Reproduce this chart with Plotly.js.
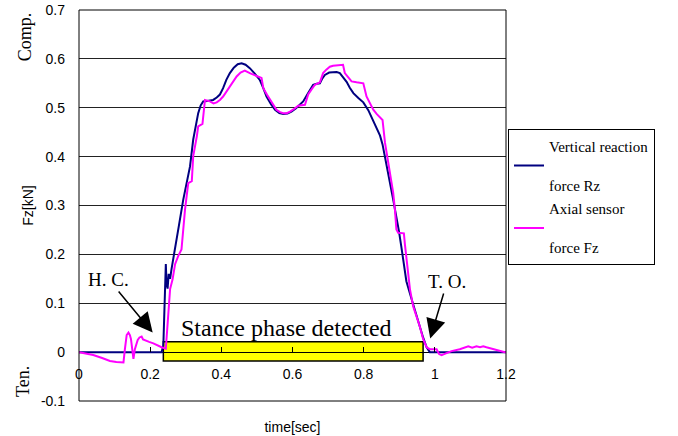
<!DOCTYPE html>
<html>
<head>
<meta charset="utf-8">
<script src="https://cdn.plot.ly/plotly-3.0.1.min.js"></script>
<style>html,body{margin:0;padding:0;background:#fff;}#chart{width:678px;height:436px;}</style>
</head>
<body>
<div id="chart"></div>
<script>
// Vertical reaction force Rz (navy)
var rzTime = [0, 0.232, 0.237, 0.241, 0.244, 0.246, 0.249, 0.252, 0.256, 0.260, 0.265, 0.270, 0.281, 0.293, 0.303, 0.312, 0.321, 0.328, 0.335, 0.342, 0.349, 0.360, 0.377, 0.387, 0.396, 0.405, 0.414, 0.424, 0.435, 0.446, 0.457, 0.468, 0.480, 0.494, 0.508, 0.518, 0.527, 0.540, 0.551, 0.563, 0.574, 0.586, 0.597, 0.610, 0.621, 0.630, 0.644, 0.658, 0.668, 0.677, 0.684, 0.691, 0.703, 0.714, 0.724, 0.733, 0.742, 0.752, 0.761, 0.771, 0.785, 0.799, 0.813, 0.827, 0.837, 0.846, 0.853, 0.860, 0.867, 0.874, 0.883, 0.892, 0.899, 0.906, 0.913, 0.920, 0.930, 0.939, 0.949, 0.958, 0.967, 0.977, 0.986, 1.0, 1.2];
var rzForce = [0, 0, 0.013, 0.09, 0.18, 0.14, 0.13, 0.16, 0.15, 0.17, 0.19, 0.21, 0.26, 0.312, 0.35, 0.38, 0.435, 0.465, 0.489, 0.505, 0.513, 0.514, 0.516, 0.521, 0.527, 0.540, 0.557, 0.571, 0.582, 0.589, 0.591, 0.588, 0.581, 0.570, 0.557, 0.540, 0.523, 0.507, 0.496, 0.489, 0.487, 0.488, 0.492, 0.499, 0.507, 0.513, 0.530, 0.547, 0.549, 0.550, 0.560, 0.567, 0.572, 0.573, 0.573, 0.571, 0.563, 0.553, 0.541, 0.530, 0.520, 0.511, 0.495, 0.472, 0.458, 0.443, 0.425, 0.401, 0.375, 0.346, 0.312, 0.278, 0.248, 0.215, 0.180, 0.145, 0.120, 0.098, 0.075, 0.050, 0.030, 0.010, 0.0, 0, 0];

// Axial sensor force Fz (magenta)
var fzTime = [0, 0.02, 0.04, 0.065, 0.087, 0.105, 0.125, 0.129, 0.134, 0.139, 0.143, 0.146, 0.150, 0.153, 0.157, 0.165, 0.170, 0.176, 0.180, 0.185, 0.197, 0.209, 0.220, 0.232, 0.244, 0.251, 0.256, 0.263, 0.270, 0.279, 0.288, 0.298, 0.307, 0.317, 0.321, 0.331, 0.335, 0.347, 0.352, 0.354, 0.368, 0.378, 0.387, 0.396, 0.405, 0.414, 0.424, 0.433, 0.443, 0.454, 0.466, 0.480, 0.490, 0.499, 0.513, 0.518, 0.528, 0.537, 0.546, 0.555, 0.565, 0.574, 0.584, 0.593, 0.605, 0.616, 0.635, 0.644, 0.653, 0.663, 0.677, 0.686, 0.695, 0.705, 0.714, 0.733, 0.742, 0.747, 0.756, 0.766, 0.780, 0.799, 0.808, 0.818, 0.827, 0.837, 0.846, 0.853, 0.860, 0.869, 0.876, 0.883, 0.888, 0.892, 0.897, 0.906, 0.913, 0.916, 0.920, 0.925, 0.930, 0.939, 0.949, 0.958, 0.967, 0.977, 0.986, 1.005, 1.012, 1.019, 1.026, 1.033, 1.047, 1.070, 1.080, 1.094, 1.105, 1.117, 1.127, 1.136, 1.145, 1.154, 1.178, 1.197, 1.2];
var fzForce = [0, -0.003, -0.006, -0.012, -0.018, -0.020, -0.021, 0.006, 0.035, 0.040, 0.035, 0.027, 0.0, -0.014, 0.006, 0.025, 0.030, 0.032, 0.026, 0.025, 0.021, 0.018, 0.014, 0.010, 0.007, 0.074, 0.129, 0.149, 0.180, 0.197, 0.21, 0.292, 0.346, 0.350, 0.401, 0.441, 0.462, 0.467, 0.496, 0.516, 0.513, 0.509, 0.511, 0.516, 0.523, 0.533, 0.543, 0.553, 0.564, 0.572, 0.576, 0.571, 0.567, 0.565, 0.561, 0.540, 0.527, 0.516, 0.505, 0.496, 0.491, 0.489, 0.489, 0.492, 0.498, 0.504, 0.506, 0.527, 0.537, 0.547, 0.552, 0.571, 0.578, 0.584, 0.586, 0.588, 0.588, 0.571, 0.562, 0.554, 0.552, 0.550, 0.523, 0.510, 0.496, 0.487, 0.479, 0.475, 0.428, 0.387, 0.357, 0.326, 0.290, 0.251, 0.244, 0.244, 0.243, 0.22, 0.197, 0.160, 0.129, 0.094, 0.074, 0.052, 0.027, 0.010, 0.006, 0.006, -0.004, -0.006, -0.004, -0.002, 0.002, 0.006, 0.008, 0.012, 0.009, 0.012, 0.010, 0.012, 0.010, 0.008, 0.004, 0.0, 0];

var seriesNames = ['Vertical reaction<br><br>force Rz', 'Axial sensor<br><br>force Fz'];
var xTickVals = [0, 0.2, 0.4, 0.6, 0.8, 1.0, 1.2];
var xTickText = ['0', '0.2', '0.4', '0.6', '0.8', '1', '1.2'];
var yTickVals = [-0.1, 0, 0.1, 0.2, 0.3, 0.4, 0.5, 0.6, 0.7];
var yTickText = ['-0.1', '0', '0.1', '0.2', '0.3', '0.4', '0.5', '0.6', '0.7'];
var stanceStart = 0.237, stanceEnd = 0.967;
var stanceBand = [-0.018, 0.021];

var sans = 'Liberation Sans';
var serif = 'Liberation Serif';

var traces = [
  {x: rzTime, y: rzForce, name: seriesNames[0], type: 'scatter', mode: 'lines', legendgroup: 'rz',
   line: {color: '#000080', width: 2}},
  {x: fzTime, y: fzForce, name: seriesNames[1], type: 'scatter', mode: 'lines', legendgroup: 'fz',
   line: {color: '#FF00FF', width: 2}},
  // empty helper trace so the bottom axis carrying the axis title is drawn
  {x: [], y: [], xaxis: 'x2', yaxis: 'y', type: 'scatter', mode: 'lines', showlegend: false, hoverinfo: 'skip'}
];

var layout = {
  width: 678, height: 436,
  margin: {l: 79, r: 172, t: 10, b: 35},
  paper_bgcolor: '#fff', plot_bgcolor: '#fff',
  font: {family: serif, color: '#000', size: 14},
  showlegend: true,
  legend: {x: 1.0047, xanchor: 'left', y: 0.696, yanchor: 'top',
    bordercolor: '#000', borderwidth: 1, bgcolor: '#fff', tracegroupgap: 1,
    font: {family: serif, size: 15, color: '#000'}},
  xaxis: {range: [0, 1.2], anchor: 'free', position: 0.125,
    tickvals: xTickVals, ticktext: xTickText, ticks: 'inside', ticklen: 5, tickwidth: 1, tickcolor: '#000',
    showgrid: false, zeroline: false, showline: false,
    tickfont: {family: sans, size: 14, color: '#000'}, ticklabelstandoff: 12},
  xaxis2: {overlaying: 'x', matches: 'x', anchor: 'y', side: 'bottom', range: [0, 1.2],
    showticklabels: false, ticks: '', showgrid: false, zeroline: false, showline: false,
    title: {text: 'time[sec]', font: {family: sans, size: 14, color: '#000'}, standoff: 21}},
  yaxis: {range: [-0.1, 0.7], tickvals: yTickVals, ticktext: yTickText,
    showgrid: true, gridcolor: '#222', gridwidth: 1,
    zeroline: true, zerolinecolor: '#000', zerolinewidth: 1, showline: false, ticks: '',
    tickfont: {family: sans, size: 14, color: '#000'}, ticklabelstandoff: 13,
    title: {text: 'Fz[kN]', font: {family: sans, size: 14, color: '#000'}, standoff: 3}},
  shapes: [
    {type: 'rect', xref: 'x', yref: 'y', x0: stanceStart, x1: stanceEnd, y0: stanceBand[0], y1: stanceBand[1],
     fillcolor: '#FFFF00', line: {color: '#000', width: 1.5}, layer: 'below'},
    {type: 'rect', xref: 'paper', yref: 'paper', x0: 0, x1: 1, y0: 0, y1: 1,
     line: {color: '#000', width: 1}, fillcolor: 'rgba(0,0,0,0)', layer: 'above'}
  ],
  annotations: [
    {text: 'Comp.', xref: 'paper', yref: 'paper', x: -0.1265, y: 0.933, xanchor: 'center', yanchor: 'middle',
     textangle: -90, showarrow: false, font: {family: serif, size: 18, color: '#000'}},
    {text: 'Ten.', xref: 'paper', yref: 'paper', x: -0.131, y: 0.049, xanchor: 'center', yanchor: 'middle',
     textangle: -90, showarrow: false, font: {family: serif, size: 18, color: '#000'}},
    {text: 'Stance phase detected', xref: 'x', yref: 'y', x: 0.584, y: 0.049, showarrow: false,
     font: {family: serif, size: 24, color: '#000'}},
    {text: 'H. C.', xref: 'x', yref: 'y', x: 0.207, y: 0.040, ax: -44, ay: -53, showarrow: true,
     arrowhead: 2, arrowsize: 2.6, arrowwidth: 1.5, arrowcolor: '#000',
     font: {family: serif, size: 19, color: '#000'}},
    {text: 'T. O.', xref: 'x', yref: 'y', x: 0.987, y: 0.028, ax: 17, ay: -57, showarrow: true,
     arrowhead: 2, arrowsize: 2.6, arrowwidth: 1.5, arrowcolor: '#000',
     font: {family: serif, size: 19, color: '#000'}}
  ]
};

Plotly.newPlot('chart', traces, layout, {displayModeBar: false, responsive: false});
</script>
</body>
</html>
